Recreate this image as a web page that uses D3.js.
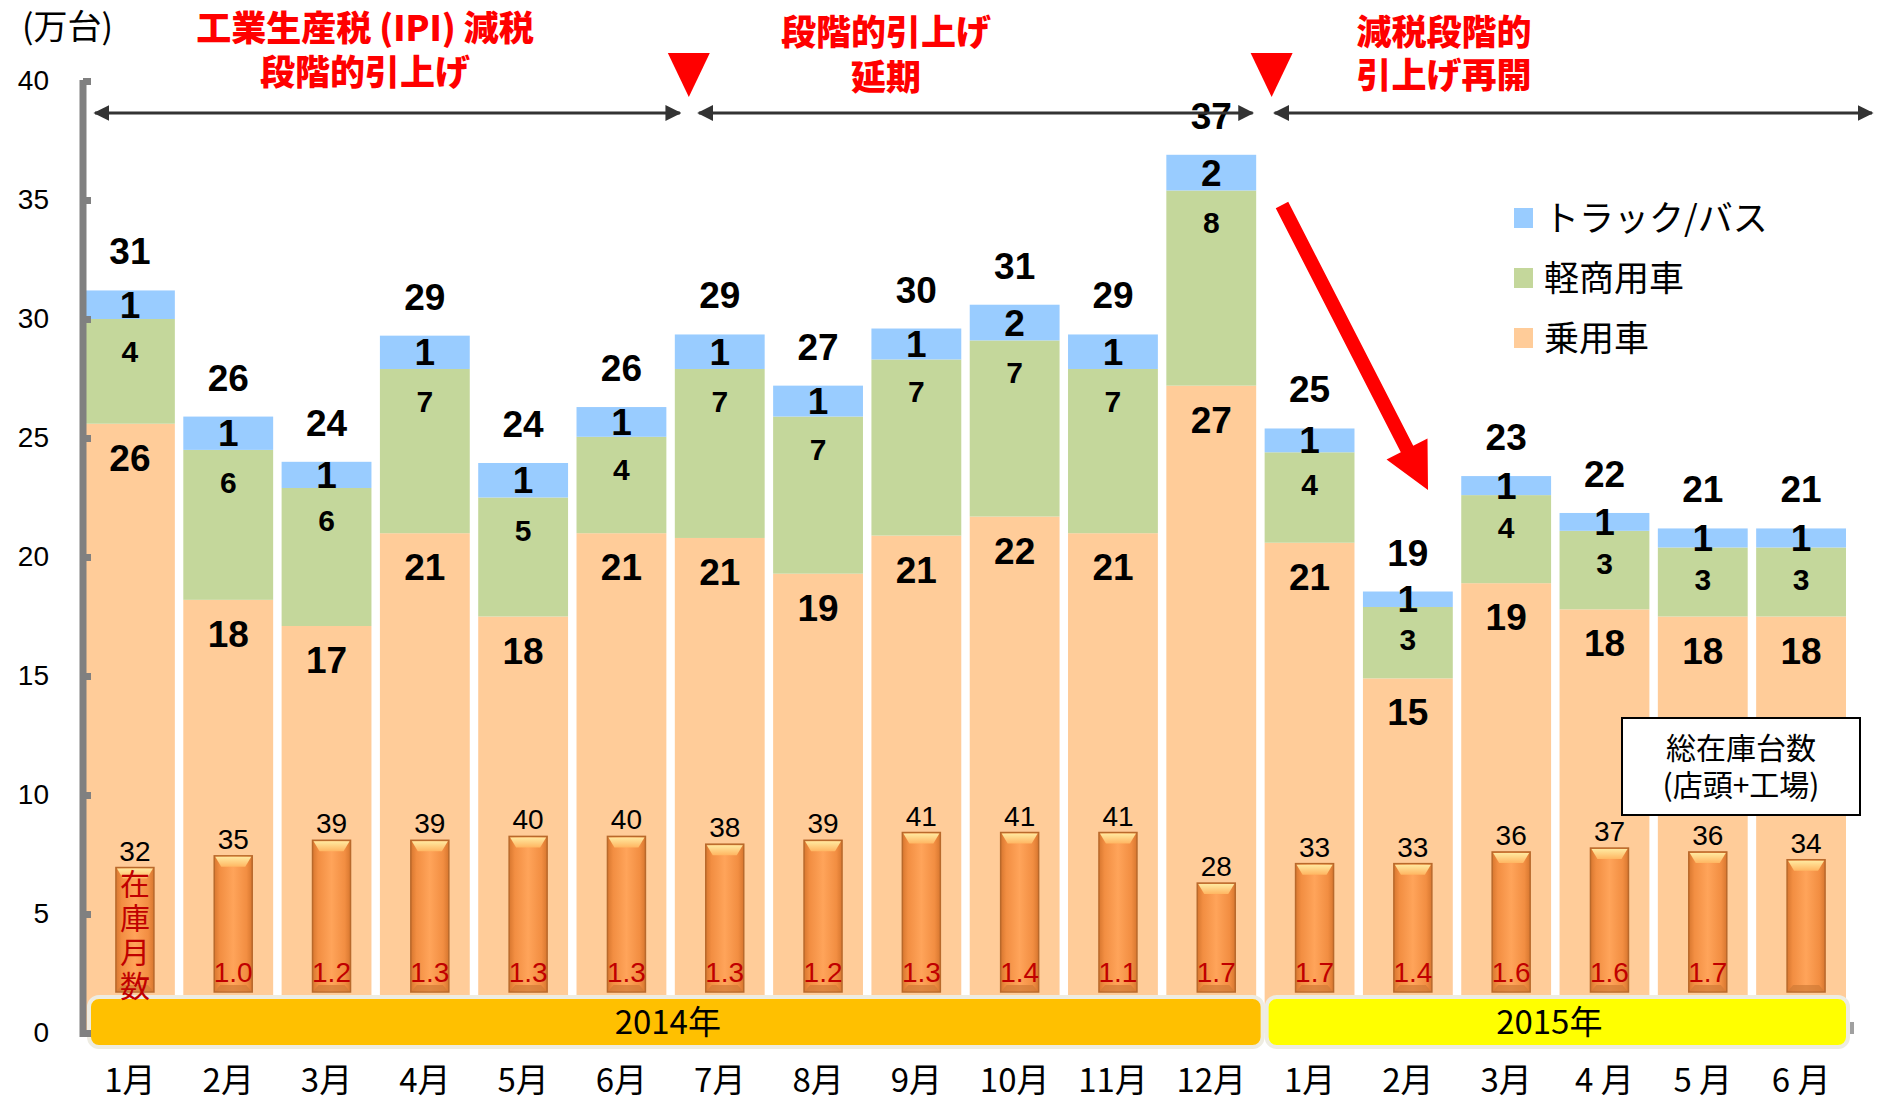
<!DOCTYPE html>
<html>
<head>
<meta charset="utf-8">
<script src="https://cdn.jsdelivr.net/npm/d3@7"></script>
<style>
  body { margin: 0; background: #fff; }
  svg { display: block; }
</style>
</head>
<body>
<svg width="1891" height="1101"></svg>
<script>
const svg = d3.select("svg");

// data (万台)
const months = ["1月", "2月", "3月", "4月", "5月", "6月", "7月", "8月", "9月", "10月", "11月", "12月",
                "1月", "2月", "3月", "4 月", "5 月", "6 月"];
const passenger = [25.6, 18.2, 17.1, 21.0, 17.5, 21.0, 20.8, 19.3, 20.9, 21.7, 21.0, 27.2, 20.6, 14.9, 18.9, 17.8, 17.5, 17.5];
const lightCommercial = [4.4, 6.3, 5.8, 6.9, 5.0, 4.05, 7.1, 6.6, 7.4, 7.4, 6.9, 8.2, 3.8, 3.0, 3.7, 3.3, 2.9, 2.9];
const truckBus = [1.2, 1.4, 1.1, 1.4, 1.45, 1.25, 1.45, 1.3, 1.3, 1.5, 1.45, 1.5, 1.0, 0.65, 0.8, 0.75, 0.8, 0.8];
const inventory = [32, 35, 39, 39, 40, 40, 38, 39, 41, 41, 41, 28, 33, 33, 36, 37, 36, 34];
const inventoryMonths = [null, 1.0, 1.2, 1.3, 1.3, 1.3, 1.3, 1.2, 1.3, 1.4, 1.1, 1.7, 1.7, 1.4, 1.6, 1.6, 1.7, null];
const yTicks = [0, 5, 10, 15, 20, 25, 30, 35, 40];
const years = ["2014年", "2015年"];
const yearStart = [0, 12];
const seriesNames = ["乗用車", "軽商用車", "トラック/バス"];
const periodTitles = [["工業生産税 (IPI) 減税", "段階的引上げ"], ["段階的引上げ", "延期"], ["減税段階的", "引上げ再開"]];

const colors = { passenger: "#FFCC99", light: "#C4D79B", truck: "#99CCFF" };
const numFont = '"Liberation Sans Narrow", "Arial Narrow", "Liberation Sans", Arial, sans-serif';
const plainFont = '"Liberation Sans", Arial, sans-serif';
const jpFont = '"Noto Sans CJK JP", "Noto Sans", sans-serif';

const rows = months.map((m, i) => ({
  i: i, passenger: passenger[i], light: lightCommercial[i], truck: truckBus[i]
}));
const stacked = d3.stack().keys(["passenger", "light", "truck"])(rows);

const x = d3.scaleBand().domain(d3.range(months.length)).range([85, 1846]).paddingInner(0.086).paddingOuter(0);
const y = d3.scaleLinear().domain([0, 40]).range([1033, 81]);
const yInv = d3.scaleLinear().domain([0, 41]).range([992, 992 - 41 * 3.89]);
const bw = x.bandwidth();

// stacked bars
const layer = svg.append("g").selectAll("g")
  .data(stacked)
  .join("g")
  .attr("fill", d => colors[d.key]);

layer.selectAll("rect")
  .data(d => d)
  .join("rect")
  .attr("x", d => x(d.data.i))
  .attr("y", d => y(d[1]))
  .attr("width", bw)
  .attr("height", d => y(d[0]) - y(d[1]));

// small inventory bars
const defs = svg.append("defs");
const grad = defs.append("linearGradient").attr("id", "invGrad").attr("x1", "0").attr("x2", "1").attr("y1", "0").attr("y2", "0");
[[0, "#D8772F"], [0.15, "#F28E42"], [0.5, "#FFA45A"], [0.85, "#F28E42"], [1, "#D8772F"]]
  .forEach(s => grad.append("stop").attr("offset", s[0]).attr("stop-color", s[1]));
const capGrad = defs.append("linearGradient").attr("id", "capGrad").attr("x1", "0").attr("x2", "0").attr("y1", "0").attr("y2", "1");
[[0, "#FFE9A0"], [1, "#FFB662"]].forEach(s => capGrad.append("stop").attr("offset", s[0]).attr("stop-color", s[1]));

const invW = 38;
const invX = i => x(i) + bw / 2 - invW / 2 + 5;
const inv = svg.append("g");
inv.selectAll("rect")
  .data(inventory)
  .join("rect")
  .attr("x", (d, i) => invX(i))
  .attr("y", d => yInv(d))
  .attr("width", invW)
  .attr("height", d => yInv(0) - yInv(d))
  .attr("fill", "url(#invGrad)")
  .attr("stroke", "#B9692B")
  .attr("stroke-width", 1.5);
inv.selectAll("path.cap")
  .data(inventory)
  .join("path")
  .attr("class", "cap")
  .attr("d", (d, i) => {
    const x0 = invX(i), x1 = x0 + invW, t = yInv(d);
    return `M${x0 + 1},${t + 1}L${x1 - 1},${t + 1}L${x1 - 7},${t + 11}L${x0 + 7},${t + 11}Z`;
  })
  .attr("fill", "url(#capGrad)");
inv.selectAll("path.base")
  .data(inventory)
  .join("path")
  .attr("class", "base")
  .attr("d", (d, i) => {
    const x0 = invX(i), x1 = x0 + invW, b = yInv(0);
    return `M${x0 + 1},${b - 1}L${x1 - 1},${b - 1}L${x1 - 6},${b - 7}L${x0 + 6},${b - 7}Z`;
  })
  .attr("fill", "#D07A36")
  .attr("opacity", 0.7);

// inventory labels
svg.append("g").selectAll("text")
  .data(inventory)
  .join("text")
  .attr("x", (d, i) => invX(i) + invW / 2)
  .attr("y", d => yInv(d) - 17 + 10)
  .attr("text-anchor", "middle")
  .style("font-family", plainFont)
  .style("font-size", "28px")
  .text(d => d);

svg.append("g").selectAll("text")
  .data(inventoryMonths.map((v, i) => ({ v, i })).filter(d => d.v !== null))
  .join("text")
  .attr("x", d => invX(d.i) + invW / 2)
  .attr("y", 982)
  .attr("text-anchor", "middle")
  .attr("fill", "#C00000")
  .style("font-family", plainFont)
  .style("font-size", "28px")
  .text(d => d3.format(".1f")(d.v));

// segment labels
const segLabels = svg.append("g").style("font-family", numFont).style("font-weight", "bold").attr("text-anchor", "middle");
stacked.forEach(s => {
  segLabels.selectAll(null)
    .data(s)
    .join("text")
    .attr("x", d => x(d.data.i) + bw / 2)
    .attr("y", d => {
      if (s.key === "truck") return (y(d[0]) + y(d[1])) / 2 + 13;
      if (s.key === "light") return y(d[1]) + 32 + 11;
      return y(d[1]) + 34 + 13;
    })
    .style("font-size", s.key === "light" ? "30px" : "37px")
    .text(d => Math.round(d[1] - d[0]));
});

// totals
segLabels.selectAll(null)
  .data(rows)
  .join("text")
  .attr("x", d => x(d.i) + bw / 2)
  .attr("y", d => y(d.passenger + d.light + d.truck) - 39 + 13)
  .style("font-size", "37px")
  .text(d => Math.round(d.passenger + d.light + d.truck));

// year bands
const yearEnd = [yearStart[1] - 1, months.length - 1];
const bands = svg.append("g");
years.forEach((label, k) => {
  const x0 = k === 0 ? x(yearStart[k]) + 4 : x(yearStart[k]) + 2;
  const x1 = k === 0 ? x(yearEnd[k] + 1) - 2 : x(yearEnd[k]) + bw + 2;
  bands.append("rect")
    .attr("x", x0).attr("y", 997)
    .attr("width", x1 - x0).attr("height", 50)
    .attr("rx", 10)
    .attr("fill", k === 0 ? "#FFC000" : "#FFFF00")
    .attr("stroke", "#EEECE1")
    .attr("stroke-width", 4);
  bands.append("text")
    .attr("x", (x0 + x1) / 2 - 8)
    .attr("y", 1022)
    .attr("dy", "0.36em")
    .attr("text-anchor", "middle")
    .style("font-family", jpFont)
    .style("font-size", "33px")
    .text(label);
});

// vertical caption in the first inventory bar (sits over the band, as in the source)
svg.append("text")
  .attr("x", invX(0) + invW / 2)
  .attr("y", 869)
  .style("writing-mode", "vertical-rl")
  .style("letter-spacing", "4px")
  .attr("fill", "#C00000")
  .style("font-family", jpFont)
  .style("font-size", "30px")
  .text("在庫月数");

// y axis
const axis = svg.append("g")
  .attr("transform", "translate(83,0)")
  .call(d3.axisLeft(y).tickValues(yTicks).tickSizeInner(-8).tickSizeOuter(0).tickPadding(34));
axis.select(".domain").attr("stroke", "#808080").attr("stroke-width", 7)
  .attr("d", `M0,${y(40) - 1}V${y(0) + 4}`);
axis.selectAll(".tick line").attr("stroke", "#808080").attr("stroke-width", 7);
axis.selectAll(".tick text")
  .style("font-family", plainFont)
  .style("font-size", "28px")
  .attr("fill", "#000");

svg.append("line")
  .attr("x1", 1852).attr("x2", 1852).attr("y1", 1022).attr("y2", 1034)
  .attr("stroke", "#A0A0A0").attr("stroke-width", 4);

svg.append("text")
  .attr("x", 22).attr("y", 27).attr("dy", "0.36em")
  .style("font-family", jpFont)
  .style("font-size", "34px")
  .text("(万台)");

// month labels
svg.append("g").selectAll("text")
  .data(months)
  .join("text")
  .attr("x", (d, i) => x(i) + bw / 2)
  .attr("y", 1080)
  .attr("dy", "0.36em")
  .attr("text-anchor", "middle")
  .style("font-family", jpFont)
  .style("font-size", "33px")
  .text(d => d);

// period arrows
const arrowDefs = defs.append("marker")
  .attr("id", "ah").attr("viewBox", "0 0 10 10").attr("refX", 9).attr("refY", 5)
  .attr("markerWidth", 5).attr("markerHeight", 5).attr("orient", "auto-start-reverse")
  .attr("markerUnits", "strokeWidth");
arrowDefs.append("path").attr("d", "M0,0L10,5L0,10Z").attr("fill", "#333");

const periodX = [[x(0) + 10, x(6) + 5], [x(6) + 24, x(12) - 12], [x(12) + 10, 1872]];
const periodArrows = svg.append("g");
periodX.forEach(p => {
  periodArrows.append("line")
    .attr("x1", p[0]).attr("x2", p[1]).attr("y1", 113).attr("y2", 113)
    .attr("stroke", "#333").attr("stroke-width", 3.2)
    .attr("marker-start", "url(#ah)").attr("marker-end", "url(#ah)");
});

const markerX = [x(6) + 14, x(12) + 7];
svg.append("g").selectAll("path")
  .data(markerX)
  .join("path")
  .attr("d", d => `M${d - 21},53L${d + 21},53L${d},97Z`)
  .attr("fill", "#FF0000");

// two-line red titles, one text element each
const titleX = [365, 886, 1444];
const titleY = [28, 32, 32];
const titleGap = [44, 45, 43];
periodTitles.forEach((lines, k) => {
  const t = svg.append("text")
    .attr("text-anchor", "middle")
    .attr("fill", "#FF0000")
    .style("font-family", jpFont)
    .style("font-weight", 900)
    .style("font-size", "35px");
  lines.forEach((line, j) => {
    t.append("tspan")
      .attr("x", titleX[k])
      .attr("y", titleY[k] + j * titleGap[k] + 13)
      .text(line);
  });
});

// red trend arrow
(function () {
  const sx = 1282, sy = 205, tx = 1428, ty = 490;
  const len = Math.hypot(tx - sx, ty - sy);
  const ux = (tx - sx) / len, uy = (ty - sy) / len, px = -uy, py = ux;
  const hl = 46, hw = 23, sw = 7;
  const bx = tx - ux * hl, by = ty - uy * hl;
  const pts = [
    [sx + px * sw, sy + py * sw], [bx + px * sw, by + py * sw], [bx + px * hw, by + py * hw],
    [tx, ty], [bx - px * hw, by - py * hw], [bx - px * sw, by - py * sw], [sx - px * sw, sy - py * sw]
  ];
  svg.append("path").attr("d", d3.line()(pts) + "Z").attr("fill", "#FF0000");
})();

// legend
const legendColors = [colors.truck, colors.light, colors.passenger];
const legendNames = [seriesNames[2], seriesNames[1], seriesNames[0]];
const legend = svg.append("g");
legendNames.forEach((n, k) => {
  legend.append("rect").attr("x", 1514).attr("y", 208 + k * 60).attr("width", 19).attr("height", 20).attr("fill", legendColors[k]);
  legend.append("text").attr("x", 1544).attr("y", 218 + k * 60).attr("dy", "0.36em")
    .style("font-family", jpFont).style("font-size", "35px").text(n);
});

// note box
svg.append("rect").attr("x", 1622).attr("y", 718).attr("width", 238).attr("height", 97)
  .attr("fill", "#fff").attr("stroke", "#000").attr("stroke-width", 2);
const note = svg.append("text")
  .attr("text-anchor", "middle")
  .style("font-family", jpFont).style("font-size", "30px");
["総在庫台数", "(店頭+工場)"].forEach((t, j) => {
  note.append("tspan").attr("x", 1741).attr("y", 748 + j * 37 + 11).text(t);
});
</script>
</body>
</html>
